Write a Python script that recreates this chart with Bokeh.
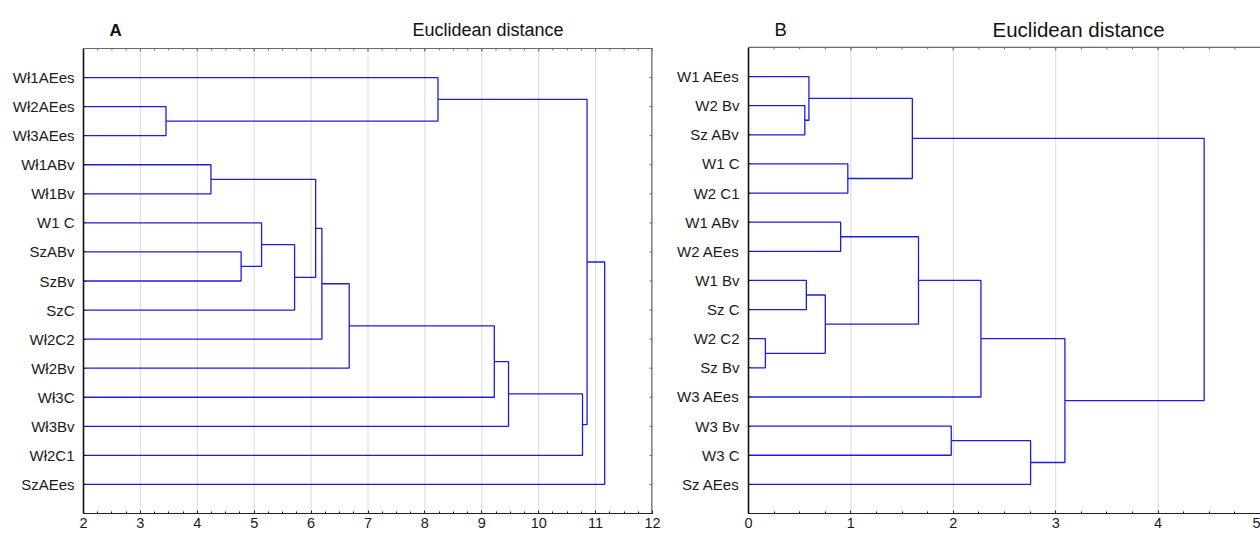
import math
from bokeh.plotting import figure
from bokeh.models import Range1d, FixedTicker, Span
from bokeh.core.properties import value
from bokeh.layouts import row
from bokeh.embed import file_html
from bokeh.resources import INLINE

# ---------------- Panel A data ----------------
leaves_a = ["Wł1AEes", "Wł2AEes", "Wł3AEes", "Wł1ABv", "Wł1Bv", "W1 C", "SzABv",
            "SzBv", "SzC", "Wł2C2", "Wł2Bv", "Wł3C", "Wł3Bv", "Wł2C1", "SzAEes"]
merge_a_name = ["m1", "m2", "m3", "m4", "m5", "m6", "m7", "m8", "m9", "m10", "m11", "m12", "m13", "m14"]
merge_a_left = ["Wł2AEes", "Wł1ABv", "SzABv", "W1 C", "m4", "m2", "m6", "m7", "Wł1AEes", "m8", "m10", "m11", "m9", "m13"]
merge_a_right = ["Wł3AEes", "Wł1Bv", "SzBv", "m3", "SzC", "m5", "Wł2C2", "Wł2Bv", "m1", "Wł3C", "Wł3Bv", "Wł2C1", "m12", "SzAEes"]
merge_a_height = [3.45, 4.24, 4.77, 5.13, 5.71, 6.08, 6.19, 6.67, 8.23, 9.22, 9.47, 10.77, 10.85, 11.16]

# ---------------- Panel B data ----------------
leaves_b = ["W1 AEes", "W2 Bv", "Sz ABv", "W1 C", "W2 C1", "W1 ABv", "W2 AEes",
            "W1 Bv", "Sz C", "W2 C2", "Sz Bv", "W3 AEes", "W3 Bv", "W3 C", "Sz AEes"]
merge_b_name = ["b1", "b2", "b3", "b4", "b5", "b6", "b7", "b8", "b9", "b10", "b11", "b12", "b13", "b14"]
merge_b_left = ["W2 Bv", "W1 AEes", "W1 C", "b2", "W1 ABv", "W1 Bv", "W2 C2", "b6", "b5", "b9", "W3 Bv", "b11", "b10", "b4"]
merge_b_right = ["Sz ABv", "b1", "W2 C1", "b3", "W2 AEes", "Sz C", "Sz Bv", "b7", "b8", "W3 AEes", "W3 C", "Sz AEes", "b12", "b13"]
merge_b_height = [0.55, 0.59, 0.97, 1.60, 0.90, 0.565, 0.165, 0.75, 1.66, 2.27, 1.98, 2.755, 3.09, 4.45]

x_ticks_a = [2, 3, 4, 5, 6, 7, 8, 9, 10, 11, 12]
x_ticks_b = [0, 1, 2, 3, 4, 5]

FONT = "Liberation Sans"
LINE = "#1c1ce4"
BORDER = "#6a6a6a"


def dendro_paths(leaves, names, lefts, rights, heights):
    pos = {n: (i + 1, 0.0) for i, n in enumerate(leaves)}
    xs, ys = [], []
    for n, a, b, h in zip(names, lefts, rights, heights):
        ya, ha = pos[a]
        yb, hb = pos[b]
        xs.append([ha, h, h, hb])
        ys.append([ya, ya, yb, yb])
        pos[n] = ((ya + yb) / 2.0, h)
    return xs, ys


def make_panel(leaves, names, lefts, rights, heights, xticks, x0, x1,
               width, height, mbl, mbr, mbb, y_top, right_border, titles):
    n = len(leaves)
    p = figure(width=width, height=height, min_border_left=mbl, min_border_right=mbr,
               min_border_top=0, min_border_bottom=mbb,
               x_range=Range1d(x0, x1), y_range=Range1d(n + 1, y_top),
               output_backend="svg", toolbar_location=None)
    p.background_fill_color = "white"
    p.border_fill_color = "white"
    p.outline_line_color = None
    p.xgrid.grid_line_color = None
    p.ygrid.grid_line_color = None

    minors = [x0 + 0.25 * k for k in range(int(round((x1 - x0) / 0.25)) + 1)]
    xt = FixedTicker(ticks=xticks, minor_ticks=minors)
    rows = list(range(1, n + 1))
    yt = FixedTicker(ticks=rows, minor_ticks=[])

    # bottom axis
    ax = p.xaxis[0]
    ax.ticker = xt
    ax.axis_line_color = "#222222"
    ax.axis_line_width = 1.2
    ax.major_tick_line_color = "#222222"
    ax.minor_tick_line_color = "#222222"
    ax.major_tick_in = 3
    ax.major_tick_out = 0
    ax.minor_tick_in = 2
    ax.minor_tick_out = 0
    ax.major_label_text_font = FONT
    ax.major_label_text_font_size = "14.5px"
    ax.major_label_text_color = "#1a1a1a"
    ax.major_label_standoff = 4

    # left axis (row labels)
    ay = p.yaxis[0]
    ay.ticker = yt
    ay.bounds = (0, n + 1)
    ay.major_label_overrides = {i + 1: s for i, s in enumerate(leaves)}
    ay.axis_line_color = "#111111"
    ay.axis_line_width = 1.6
    ay.major_tick_line_color = "#111111"
    ay.major_tick_in = 2
    ay.major_tick_out = 0
    ay.major_label_text_font = FONT
    ay.major_label_text_font_size = "15px"
    ay.major_label_text_color = "#1a1a1a"
    ay.major_label_standoff = 9

    # vertical grid lines at the integer ticks
    inner = [t for t in xticks if x0 < t < x1]
    p.segment(x0=inner, y0=[0] * len(inner), x1=inner, y1=[n + 1] * len(inner),
              line_color="#d9d9d9", line_width=1)

    # top border with inward ticks
    p.add_layout(Span(location=0, dimension="width", line_color=BORDER, line_width=1.2))
    p.ray(x=xticks, y=[0] * len(xticks), length=3, length_units="screen",
          angle=-math.pi / 2, line_color=BORDER, line_width=1)
    p.ray(x=minors, y=[0] * len(minors), length=2, length_units="screen",
          angle=-math.pi / 2, line_color=BORDER, line_width=1)

    if right_border:
        p.segment(x0=[x1], y0=[0], x1=[x1], y1=[n + 1], line_color=BORDER, line_width=2.6)
        p.ray(x=[x1] * n, y=rows, length=3, length_units="screen",
              angle=math.pi, line_color=BORDER, line_width=1)

    xs, ys = dendro_paths(leaves, names, lefts, rights, heights)
    p.multi_line(xs=xs, ys=ys, line_color=LINE, line_width=1.3)

    for (tx, ty, txt, size, style) in titles:
        p.text(x=[tx], y=[ty], text=[txt], text_font=value(FONT), text_font_size=size,
               text_font_style=style, text_color="#111111", text_baseline="alphabetic",
               text_align="left")
    return p


titles_a = [(2.457, -0.62, "A", "17px", "bold"),
            (7.78, -0.62, "Euclidean distance", "18px", "normal")]
titles_b = [(0.254, -0.63, "B", "18.5px", "normal"),
            (2.383, -0.63, "Euclidean distance", "20.5px", "normal")]

pa = make_panel(leaves_a, merge_a_name, merge_a_left, merge_a_right, merge_a_height,
                x_ticks_a, 2, 12, 665, 534, 83, 13, 21, -1.652, True, titles_a)
pb = make_panel(leaves_b, merge_b_name, merge_b_left, merge_b_right, merge_b_height,
                x_ticks_b, 0, 5, 595, 534, 83, 0, 20, -1.61, False, titles_b)

layout = row(pa, pb)
open("out.html", "w").write(file_html(layout, INLINE))
